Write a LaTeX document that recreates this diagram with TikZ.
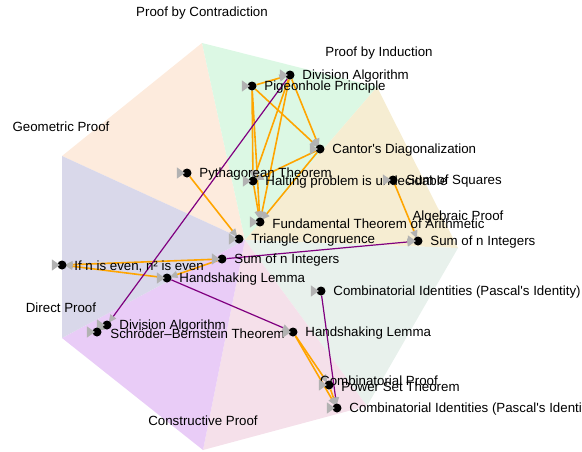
\documentclass[tikz,border=0pt]{standalone}
\usepackage{fontspec}
\setmainfont{Liberation Sans}
\usetikzlibrary{shapes,arrows.meta,positioning}
\definecolor{geomfill}{HTML}{FDEBDD}
\definecolor{contrafill}{HTML}{DCF8E4}
\definecolor{inducfill}{HTML}{F6EDD2}
\definecolor{algfill}{HTML}{E8F1EC}
\definecolor{combfill}{HTML}{F5E0EA}
\definecolor{constrfill}{HTML}{E9CCF7}
\definecolor{directfill}{HTML}{D9D8EA}
\definecolor{sameorange}{HTML}{FFA500}
\definecolor{crosspurple}{HTML}{800080}
\pgfdeclarelayer{bg}
\pgfdeclarelayer{edges}
\pgfsetlayers{bg,edges,main}
\tikzstyle{loopmark} = [isosceles triangle, isosceles triangle apex angle=70,
    fill=gray!60, inner sep=0pt, minimum size=8pt, label distance=-3pt]
\tikzstyle{dot} = [circle, fill=black, inner sep=0pt, minimum size=9pt,
    label={[loopmark]180:{}}]
\tikzstyle{lbl} = [inner sep=0pt, yshift=-1.5pt, font=\fontsize{13.3}{16}\selectfont]
\tikzstyle{cat} = [inner sep=0pt, font=\fontsize{13.3}{16}\selectfont]
\tikzstyle{sameline} = [draw, sameorange, line width=1.6pt, shorten >=-2pt,
    -{Triangle[length=8pt, width=7pt, color=gray!60]}]
\tikzstyle{crossline} = [draw, crosspurple, line width=1.2pt, shorten >=-2pt,
    -{Triangle[length=8pt, width=7pt, color=gray!60]}]

\begin{document}
\begin{tikzpicture}[x=1pt, y=-1pt]
		\useasboundingbox (0,0) rectangle (582,451);
		% Corners of the sectors
		\coordinate (hub) at (245,240);
		\coordinate (c1) at (202,43);
		\coordinate (c2) at (377,87);
		\coordinate (c3) at (458,248);
		\coordinate (c4) at (367,406);
		\coordinate (c5) at (203,450);
		\coordinate (c6) at (62,338);
		\coordinate (c7) at (62,156);
		\begin{pgfonlayer}{bg}
		\fill [geomfill] (hub) -- (c7) -- (c1) -- cycle;
		\fill [contrafill] (hub) -- (c1) -- (c2) -- cycle;
		\fill [inducfill] (hub) -- (c2) -- (c3) -- cycle;
		\fill [algfill] (hub) -- (c3) -- (c4) -- cycle;
		\fill [combfill] (hub) -- (c4) -- (c5) -- cycle;
		\fill [constrfill] (hub) -- (c5) -- (c6) -- cycle;
		\fill [directfill] (hub) -- (c6) -- (c7) -- cycle;
		\end{pgfonlayer}
		% Proof type labels
		\node [cat] (contra) at (202,13) {Proof by Contradiction};
		\node [cat] (induc) at (379,53) {Proof by Induction};
		\node [cat] (alg) at (458,217) {Algebraic Proof};
		\node [cat] (comb) at (379,381) {Combinatorial Proof};
		\node [cat] (constr) at (203,421) {Constructive Proof};
		\node [cat] (direct) at (61,308) {Direct Proof};
		\node [cat] (geom) at (61,127) {Geometric Proof};
		% Statement nodes
		\node [dot] (daTop) at (290,75) {};
		\node [lbl, right=7.5pt of daTop] (daTopText) {Division Algorithm};
		\node [dot] (pigeon) at (252,86) {};
		\node [lbl, right=7.5pt of pigeon] (pigeonText) {Pigeonhole Principle};
		\node [dot] (cantor) at (320,149) {};
		\node [lbl, right=7.5pt of cantor] (cantorText) {Cantor\textquotesingle s Diagonalization};
		\node [dot] (pyth) at (187,173) {};
		\node [lbl, right=7.5pt of pyth] (pythText) {Pythagorean Theorem};
		\node [dot] (halting) at (253,181) {};
		\node [lbl, right=7.5pt of halting] (haltingText) {Halting problem is undecidable};
		\node [dot] (squares) at (393,180) {};
		\node [lbl, right=8.5pt of squares] (squaresText) {Sum of Squares};
		\node [dot] (fta) at (260,222) {};
		\node [lbl, right=7.5pt of fta] (ftaText) {Fundamental Theorem of Arithmetic};
		\node [dot] (triangle) at (239,239) {};
		\node [lbl, right=7.5pt of triangle] (triangleText) {Triangle Congruence};
		\node [dot] (sumRight) at (418,241) {};
		\node [lbl, right=7.5pt of sumRight] (sumRightText) {Sum of n Integers};
		\node [dot] (sumLeft) at (222,259) {};
		\node [lbl, right=7.5pt of sumLeft] (sumLeftText) {Sum of n Integers};
		\node [dot] (evenSq) at (62,265) {};
		\node [lbl, right=7.5pt of evenSq] (evenSqText) {If n is even, n² is even};
		\node [dot] (handLeft) at (167,278) {};
		\node [lbl, right=7.5pt of handLeft] (handLeftText) {Handshaking Lemma};
		\node [dot] (pascalUp) at (321,291) {};
		\node [lbl, right=7.5pt of pascalUp] (pascalUpText) {Combinatorial Identities (Pascal\textquotesingle s Identity)};
		\node [dot] (daLow) at (107,325) {};
		\node [lbl, right=7.5pt of daLow] (daLowText) {Division Algorithm};
		\node [dot] (schroeder) at (97,332) {};
		\node [lbl, right=8.5pt of schroeder] (schroederText) {Schröder–Bernstein Theorem};
		\node [dot] (handRight) at (293,332) {};
		\node [lbl, right=7.5pt of handRight] (handRightText) {Handshaking Lemma};
		\node [dot] (powerset) at (329,385) {};
		\node [lbl, right=7.5pt of powerset] (powersetText) {Power Set Theorem};
		\node [dot] (pascalLow) at (337,408) {};
		\node [lbl, right=7.5pt of pascalLow] (pascalLowText) {Combinatorial Identities (Pascal\textquotesingle s Identity)};
		\begin{pgfonlayer}{edges}
		% Same proof type (orange)
		\path [sameline] (pigeon) -- (daTop);
		\path [sameline] (pigeon) -- (cantor);
		\path [sameline] (pigeon) -- (halting);
		\path [sameline] (pigeon) -- (fta);
		\path [sameline] (daTop) -- (cantor);
		\path [sameline] (daTop) -- (halting);
		\path [sameline] (daTop) -- (fta);
		\path [sameline] (cantor) -- (halting);
		\path [sameline] (cantor) -- (fta);
		\path [sameline] (halting) -- (fta);
		\path [sameline] (pyth) -- (triangle);
		\path [sameline] (squares) -- (sumRight);
		\path [sameline] (sumLeft) -- (evenSq);
		\path [sameline] (handLeft) -- (evenSq);
		\path [sameline] (sumLeft) -- (handLeft);
		\path [sameline] (daLow) -- (schroeder);
		\path [sameline] (handRight) -- (powerset);
		\path [sameline] (handRight) -- (pascalLow);
		\path [sameline] (powerset) -- (pascalLow);
		% Same statement, other proof type (purple)
		\path [crossline] (daTop) -- (daLow);
		\path [crossline] (sumLeft) -- (sumRight);
		\path [crossline] (handLeft) -- (handRight);
		\path [crossline] (pascalUp) -- (pascalLow);
		\end{pgfonlayer}
	\end{tikzpicture}
\end{document}
